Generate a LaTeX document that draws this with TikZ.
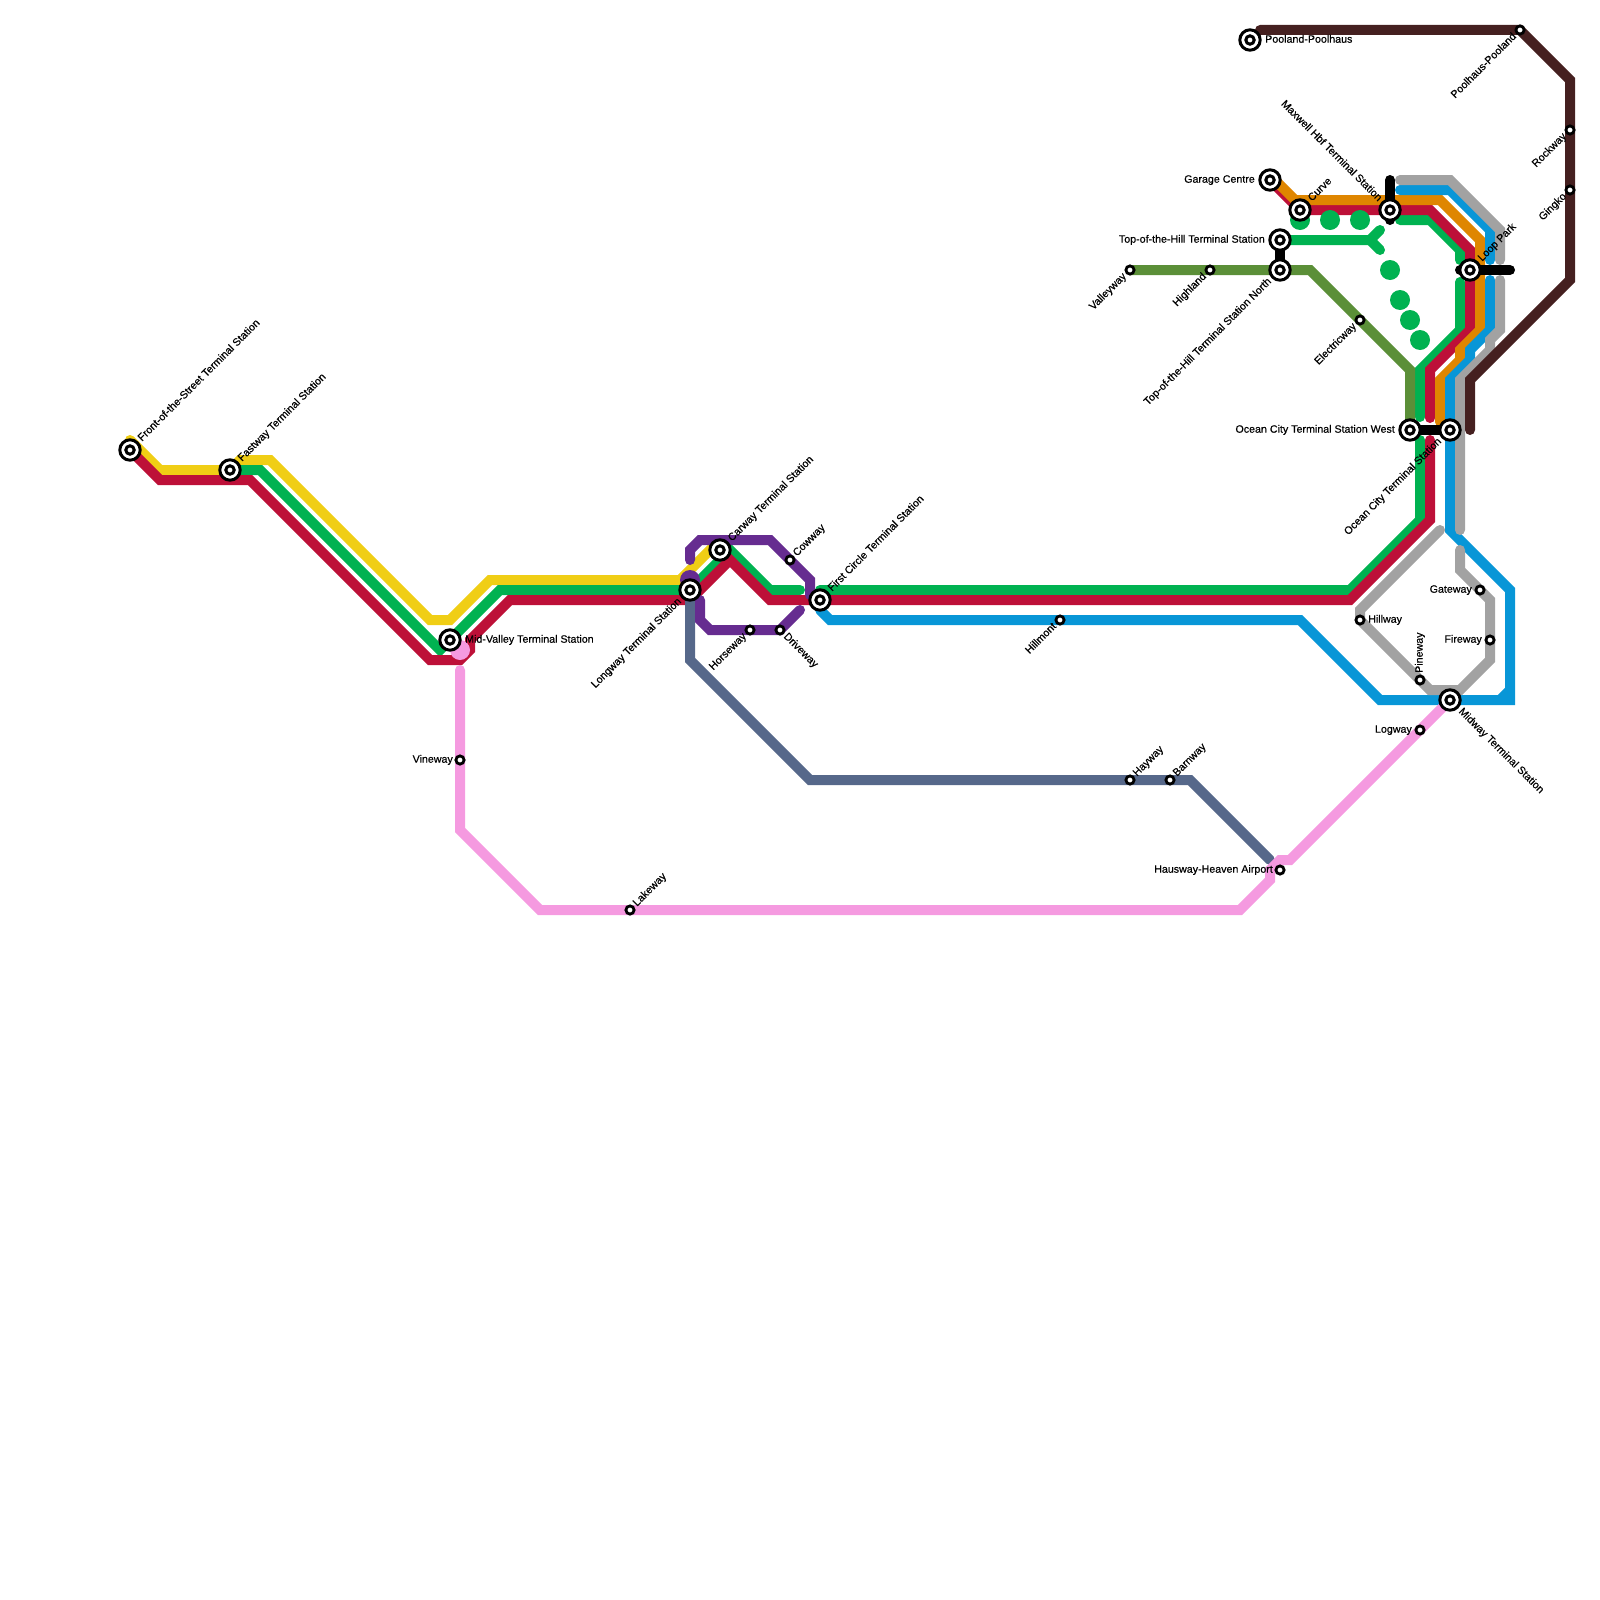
\documentclass[tikz,border=0pt]{standalone}
\usepackage{fontspec}
\setmainfont{Liberation Sans}
\definecolor{cyellow}{HTML}{F0CE15}
\definecolor{cgreen}{HTML}{00B251}
\definecolor{cred}{HTML}{BD1038}
\definecolor{corange}{HTML}{DF8600}
\definecolor{cblue}{HTML}{0896D7}
\definecolor{cgray}{HTML}{A2A2A2}
\definecolor{colive}{HTML}{5B8F38}
\definecolor{cbrown}{HTML}{452020}
\definecolor{cpink}{HTML}{F59AE0}
\definecolor{cpurple}{HTML}{662C90}
\definecolor{cslate}{HTML}{56688A}
\tikzset{
  metro/.style={line width=10pt,line cap=round,line join=miter},
  hub/.style={circle,draw=black,line width=3pt,fill=white,minimum size=20.4pt,inner sep=0pt,
    path picture={\draw[black,line width=3pt,fill=white] (path picture bounding box.center) circle (4.2pt);}},
  halt/.style={circle,draw=black,line width=2.8pt,fill=white,minimum size=8.2pt,inner sep=0pt},
  lab/.style={inner sep=0pt,text height=7.6pt,text depth=2.2pt,font=\fontsize{10.67}{12}\selectfont\addfontfeature{FakeBold=0.4}},
  ur/.style={lab,rotate=45,anchor=west},
  dl/.style={lab,rotate=45,anchor=east},
  dr/.style={lab,rotate=-45,anchor=west},
  ul/.style={lab,rotate=-45,anchor=east},
  toR/.style={lab,anchor=west},
  toL/.style={lab,anchor=east},
  blob/.style={circle,inner sep=0pt,minimum size=20pt}
}
\begin{document}
\begin{tikzpicture}[x=1pt,y=-1pt]
\useasboundingbox (0,0) rectangle (1600,1600);
% station positions
\coordinate (front) at (130,450);
\coordinate (fast) at (230,470);
\coordinate (mid) at (450,640);
\coordinate (long) at (690,590);
\coordinate (car) at (720,550);
\coordinate (first) at (820,600);
\coordinate (cow) at (790,560);
\coordinate (horse) at (750,630);
\coordinate (drive) at (780,630);
\coordinate (hillm) at (1060,620);
\coordinate (hillw) at (1360,620);
\coordinate (pine) at (1420,680);
\coordinate (midw) at (1450,700);
\coordinate (logw) at (1420,730);
\coordinate (gate) at (1480,590);
\coordinate (fire) at (1490,640);
\coordinate (vine) at (460,760);
\coordinate (lake) at (630,910);
\coordinate (hay) at (1130,780);
\coordinate (barn) at (1170,780);
\coordinate (haus) at (1280,870);
\coordinate (pool) at (1250,40);
\coordinate (poolh) at (1520,30);
\coordinate (rock) at (1570,130);
\coordinate (ging) at (1570,190);
\coordinate (garage) at (1270,180);
\coordinate (curve) at (1300,210);
\coordinate (maxw) at (1390,210);
\coordinate (tophill) at (1280,240);
\coordinate (tophilln) at (1280,270);
\coordinate (valley) at (1130,270);
\coordinate (high) at (1210,270);
\coordinate (elec) at (1360,320);
\coordinate (loop) at (1470,270);
\coordinate (ocw) at (1410,430);
\coordinate (oct) at (1450,430);
% lines
\draw[metro,cyellow] (130,440) -- (160,470) -- (fast) -- (240,460) -- (270,460) -- (430,620) -- (450,620) -- (490,580) -- (680,580) -- (720,540);
\draw[metro,cgreen] (fast) -- (260,470) -- (440,650) -- (500,590) -- (long) -- (730,550) -- (770,590) -- (800,590);
\draw[metro,cgreen] (820,590) -- (1350,590) -- (1420,520) -- (1420,440);
\draw[metro,cgreen] (1420,417) -- (1420,370) -- (1460,330) -- (1460,282);
\draw[metro,cgreen] (1460,260) -- (1460,250) -- (1430,220) -- (1400,220);
\draw[metro,cgreen] (tophill) -- (1370,240) -- (1380,230);
\draw[metro,cgreen] (1370,240) -- (1380,250);
\draw[metro,cred] (front) -- (160,480) -- (250,480) -- (430,660) -- (460,660) -- (470,650) -- (470,640) -- (510,600) -- (690,600) -- (730,560) -- (770,600) -- (1350,600) -- (1430,520) -- (1430,440);
\draw[metro,cred] (1430,418) -- (1430,370) -- (1470,330) -- (1470,250) -- (1430,210) -- (curve) -- (garage);
\draw[metro,cslate] (long) -- (690,660) -- (810,780) -- (1190,780) -- (1270,860);
\draw[metro,corange] (garage) ++(5,0) -- (1295,200) -- (1440,200) -- (1480,240) -- (1480,330) -- (1460,350) -- (1460,360) -- (1440,380) -- (1440,422);
\draw[metro,cblue] (first) ++(0,10) -- (830,620) -- (1300,620) -- (1380,700) -- (1510,700) -- (1510,590) -- (1450,530) -- (1450,380) -- (1470,360) -- (1470,350) -- (1490,330) -- (1490,280);
\draw[metro,cblue] (1490,260) -- (1490,230) -- (1450,190) -- (1400,190);
\draw[line width=10pt,cblue] (1500,700) -- (1510,690);
\draw[metro,cgray] (1400,180) -- (1450,180) -- (1500,230) -- (1500,260);
\draw[metro,cgray] (1500,280) -- (1500,330) -- (1490,340) -- (1490,350) -- (1460,380) -- (1460,530);
\draw[metro,cgray] (1440,530) -- (1360,610) -- (1360,620) -- (1420,680) -- (1430,690) -- (1460,690) -- (1490,660) -- (1490,600) -- (1460,570) -- (1460,550);
\draw[metro,cpurple] (690,560) -- (690,550) -- (700,540) -- (770,540) -- (810,580) -- (810,595);
\draw[metro,cpurple] (700,600) -- (700,620) -- (710,630) -- (780,630) -- (800,610);
\node[blob,fill=cpurple] (purpleDot) at (690,580) {};
\draw[metro,colive] (valley) -- (1310,270) -- (1410,370) -- (ocw);
\draw[metro,cbrown] (1260,30) -- (poolh) -- (1570,80) -- (1570,280) -- (1470,380) -- (1470,430);
\draw[metro,cpink] (460,670) -- (460,830) -- (540,910) -- (1240,910) -- (1270,880) -- (1270,870) -- (1280,860) -- (1290,860) -- (midw);
\node[blob,fill=cpink] (pinkDot) at (460,650) {};
% green dots
\node[blob,fill=cgreen] (g1) at (1300,220) {};
\node[blob,fill=cgreen] (g2) at (1330,220) {};
\node[blob,fill=cgreen] (g3) at (1360,220) {};
\node[blob,fill=cgreen] (g4) at (1390,270) {};
\node[blob,fill=cgreen] (g5) at (1400,300) {};
\node[blob,fill=cgreen] (g6) at (1410,320) {};
\node[blob,fill=cgreen] (g7) at (1420,340) {};
% black links
\draw[metro,black] (maxw) ++(0,-30) -- (1390,220);
\draw[metro,black] (tophill) -- (tophilln);
\draw[metro,black] (ocw) -- (oct);
\draw[metro,black] (loop) ++(-10,0) -- (1510,270);
% stations
\node[hub] (sFront) at (front) {};
\node[hub] (sFast) at (fast) {};
\node[hub] (sMid) at (mid) {};
\node[hub] (sLong) at (long) {};
\node[hub] (sCar) at (car) {};
\node[hub] (sFirst) at (first) {};
\node[hub] (sMidw) at (midw) {};
\node[hub] (sPool) at (pool) {};
\node[hub] (sGarage) at (garage) {};
\node[hub] (sCurve) at (curve) {};
\node[hub] (sMaxw) at (maxw) {};
\node[hub] (sTop) at (tophill) {};
\node[hub] (sTopN) at (tophilln) {};
\node[hub] (sLoop) at (loop) {};
\node[hub] (sOcw) at (ocw) {};
\node[hub] (sOct) at (oct) {};
\node[halt] (sCow) at (cow) {};
\node[halt] (sHorse) at (horse) {};
\node[halt] (sDrive) at (drive) {};
\node[halt] (sHillm) at (hillm) {};
\node[halt] (sHillw) at (hillw) {};
\node[halt] (sPine) at (pine) {};
\node[halt] (sLogw) at (logw) {};
\node[halt] (sGate) at (gate) {};
\node[halt] (sFire) at (fire) {};
\node[halt] (sVine) at (vine) {};
\node[halt] (sLake) at (lake) {};
\node[halt] (sHay) at (hay) {};
\node[halt] (sBarn) at (barn) {};
\node[halt] (sHaus) at (haus) {};
\node[halt] (sPoolh) at (poolh) {};
\node[halt] (sRock) at (rock) {};
\node[halt] (sGing) at (ging) {};
\node[halt] (sValley) at (valley) {};
\node[halt] (sHigh) at (high) {};
\node[halt] (sElec) at (elec) {};
% labels
\node[ur] (lFront) at ([shift={(10,-10)}]front) {Front-of-the-Street Terminal Station};
\node[ur] (lFast) at ([shift={(10,-10)}]fast) {Fastway Terminal Station};
\node[toR] (lMid) at (465,640) {Mid-Valley Terminal Station};
\node[dl] (lLong) at ([shift={(-10,10)}]long) {Longway Terminal Station};
\node[ur] (lCar) at ([shift={(10,-10)}]car) {Carway Terminal Station};
\node[ur] (lFirst) at ([shift={(10,-10)}]first) {First Circle Terminal Station};
\node[ur] (lCow) at ([shift={(5,-5)}]cow) {Cowway};
\node[dl] (lHorse) at ([shift={(-5,5)}]horse) {Horseway};
\node[dr] (lDrive) at ([shift={(5,5)}]drive) {Driveway};
\node[dl] (lHillm) at ([shift={(-5,5)}]hillm) {Hillmont};
\node[toR] (lHillw) at (1368,620) {Hillway};
\node[lab,rotate=90,anchor=west] (lPine) at ([shift={(0,-7)}]pine) {Pineway};
\node[dr] (lMidw) at ([shift={(10,10)}]midw) {Midway Terminal Station};
\node[toL] (lLogw) at (1412,730) {Logway};
\node[toL] (lGate) at (1472,590) {Gateway};
\node[toL] (lFire) at (1482,640) {Fireway};
\node[toL] (lVine) at (453,760) {Vineway};
\node[ur] (lLake) at ([shift={(5,-5)}]lake) {Lakeway};
\node[ur] (lHay) at ([shift={(5,-5)}]hay) {Hayway};
\node[ur] (lBarn) at ([shift={(5,-5)}]barn) {Barnway};
\node[toL] (lHaus) at (1273,870) {Hausway-Heaven Airport};
\node[toR] (lPool) at (1265,40) {Pooland-Poolhaus};
\node[dl] (lPoolh) at ([shift={(-5,5)}]poolh) {Poolhaus-Pooland};
\node[dl] (lRock) at ([shift={(-5,5)}]rock) {Rockway};
\node[dl] (lGing) at ([shift={(-5,5)}]ging) {Gingko};
\node[toL] (lGarage) at (1255,180) {Garage Centre};
\node[ur] (lCurve) at ([shift={(10,-10)}]curve) {Curve};
\node[ul] (lMaxw) at ([shift={(-10,-10)}]maxw) {Maxwell Hbf Terminal Station};
\node[toL] (lTop) at (1265,240) {Top-of-the-Hill Terminal Station};
\node[dl] (lTopN) at ([shift={(-10,10)}]tophilln) {Top-of-the-Hill Terminal Station North};
\node[dl] (lValley) at ([shift={(-5,5)}]valley) {Valleyway};
\node[dl] (lHigh) at ([shift={(-5,5)}]high) {Highland};
\node[dl] (lElec) at ([shift={(-5,5)}]elec) {Electricway};
\node[ur] (lLoop) at ([shift={(10,-10)}]loop) {Loop Park};
\node[toL] (lOcw) at (1395,430) {Ocean City Terminal Station West};
\node[dl] (lOct) at ([shift={(-10,10)}]oct) {Ocean City Terminal Station};
\end{tikzpicture}
\end{document}
